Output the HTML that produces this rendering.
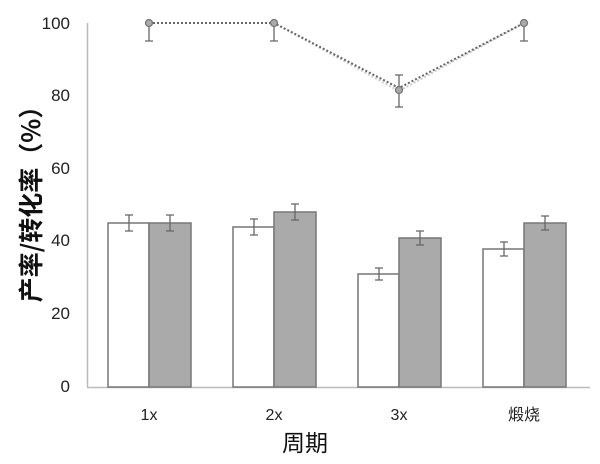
<!DOCTYPE html>
<html><head><meta charset="utf-8"><style>body{margin:0;background:#fff}svg{display:block}</style></head><body>
<svg width="600" height="464" xmlns="http://www.w3.org/2000/svg" font-family="Liberation Sans, Noto Sans CJK SC, sans-serif">
<line x1="87.5" y1="23" x2="87.5" y2="387" stroke="#bbb" stroke-width="1.5"/>
<line x1="87" y1="387.5" x2="590" y2="387.5" stroke="#bbb" stroke-width="1.5"/>
<g font-size="17" fill="#222" text-anchor="end">
<text x="70" y="392">0</text><text x="70" y="319">20</text><text x="70" y="246">40</text><text x="70" y="174">60</text><text x="70" y="101">80</text><text x="70" y="29">100</text>
</g>
<g font-size="16" fill="#222" text-anchor="middle">
<text x="149" y="420">1x</text><text x="274" y="420">2x</text><text x="399" y="420">3x</text><text x="524" y="420" font-family="Noto Sans CJK SC, sans-serif">煅烧</text>
</g>
<text x="305" y="451" font-size="23" text-anchor="middle" font-family="Noto Sans CJK SC, sans-serif" fill="#111">周期</text>
<text transform="translate(40,198) rotate(-90)" font-size="25" font-weight="bold" text-anchor="middle" font-family="Noto Sans CJK SC, sans-serif" fill="#111">产率/转化率（%）</text>
<g stroke="#777" stroke-width="1.5">
<rect x="108" y="223" width="41" height="164" fill="#fff"/>
<rect x="149" y="223" width="42" height="164" fill="#aaa"/>
<rect x="233" y="227" width="41" height="160" fill="#fff"/>
<rect x="274" y="212" width="42" height="175" fill="#aaa"/>
<rect x="358" y="274" width="41" height="113" fill="#fff"/>
<rect x="399" y="238" width="42" height="149" fill="#aaa"/>
<rect x="483" y="249" width="41" height="138" fill="#fff"/>
<rect x="524" y="223" width="42" height="164" fill="#aaa"/>
</g>
<g stroke="#666" stroke-width="1.3">
<path d="M129 215v16M125 215h8M125 231h8"/>
<path d="M170 215v16M166 215h8M166 231h8"/>
<path d="M254 219v16M250 219h8M250 235h8"/>
<path d="M295 204v16M291 204h8M291 220h8"/>
<path d="M379 268v12M375 268h8M375 280h8"/>
<path d="M420 231v14M416 231h8M416 245h8"/>
<path d="M504 242v14M500 242h8M500 256h8"/>
<path d="M545 216v14M541 216h8M541 230h8"/>
<path d="M149 23v18M145 41h8M274 23v18M270 41h8M524 23v18M520 41h8M399 75v32M395 75h8M395 107h8"/>
</g>
<polyline points="149,23 274,23 399,91 524,23" fill="none" stroke="#ccc" stroke-width="2" stroke-dasharray="2,2"/>
<polyline points="149,23 274,23 399,88 524,23" fill="none" stroke="#666" stroke-width="2" stroke-dasharray="2,2"/>
<g fill="#aaa" stroke="#777" stroke-width="1.3">
<circle cx="149" cy="23" r="3.5"/><circle cx="274" cy="23" r="3.5"/><circle cx="399" cy="90" r="3.5"/><circle cx="524" cy="23" r="3.5"/>
</g>
</svg>
</body></html>
